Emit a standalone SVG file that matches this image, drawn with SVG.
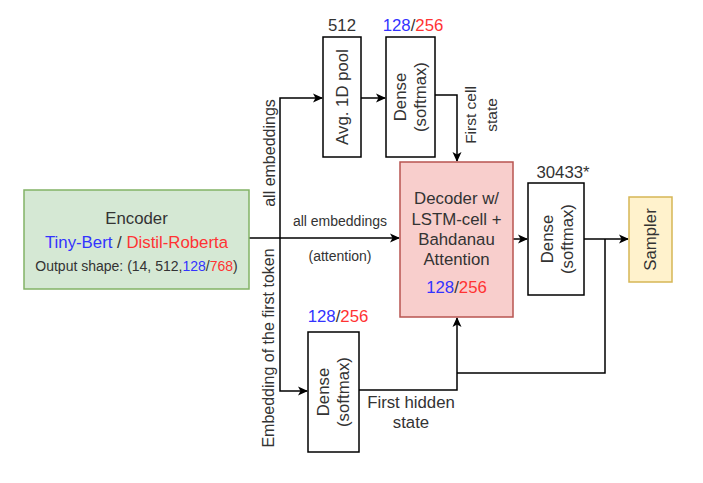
<svg xmlns="http://www.w3.org/2000/svg" width="703" height="483" viewBox="0 0 703 483">
<defs>
<marker id="arr" markerWidth="10" markerHeight="10" viewBox="0 0 10 10" refX="9" refY="5" orient="auto" markerUnits="userSpaceOnUse">
<path d="M0,0.5 L10,5 L0,9.5 L2.5,5 Z" fill="#000"/>
</marker>
<style>
text{font-family:"Liberation Sans",Arial,sans-serif;fill:#333}
.t{font-size:16.8px}
.v{font-size:16px}
.c{font-size:15.5px}
.s{font-size:14px}
.m{text-anchor:middle}
.b{fill:#3333ff}
.r{fill:#ff3333}
.box{fill:#fff;stroke:#000;stroke-width:1.5}
.ln{fill:none;stroke:#000;stroke-width:1.5}
</style>
</defs>
<rect width="703" height="483" fill="#fff"/>

<g id="connectors">
<path class="ln" d="M249,238 H399" marker-end="url(#arr)"/>
<path class="ln" d="M280,238 V98 H322" marker-end="url(#arr)"/>
<path class="ln" d="M280,238 V391 H307" marker-end="url(#arr)"/>
<path class="ln" d="M361,98 H385" marker-end="url(#arr)"/>
<path class="ln" d="M435,95 H457 V161" marker-end="url(#arr)"/>
<path class="ln" d="M359,390 H457 V318" marker-end="url(#arr)"/>
<path class="ln" d="M513,239 H527" marker-end="url(#arr)"/>
<path class="ln" d="M584,239 H628" marker-end="url(#arr)"/>
<path class="ln" d="M605,239 V373 H457"/>
</g>

<g id="edge-labels">
<text class="v m" transform="translate(275,153) rotate(-90)">all embeddings</text>
<text class="s m" x="340" y="226">all embeddings</text>
<text class="s m" x="340" y="261">(attention)</text>
<text class="v m" transform="translate(274,348) rotate(-90)">Embedding of the first token</text>
<text class="c m" transform="translate(476,115) rotate(-90)">First cell</text>
<text class="c m" transform="translate(497,115) rotate(-90)">state</text>
<text class="t m" x="411" y="408">First hidden</text>
<text class="t m" x="411" y="428">state</text>
</g>

<g id="encoder">
<rect x="24" y="190" width="225" height="99" fill="#d5e8d4" stroke="#82b366" stroke-width="1.5"/>
<text class="t m" x="136.5" y="224">Encoder</text>
<text class="t m" x="136.5" y="248"><tspan class="b">Tiny-Bert</tspan> / <tspan class="r">Distil-Roberta</tspan></text>
<text class="s m" x="136.5" y="271">Output shape: (14, 512,<tspan class="b">128</tspan>/<tspan class="r">768</tspan>)</text>
</g>

<g id="avgpool">
<rect class="box" x="323" y="37" width="38" height="120"/>
<text class="t m" x="342" y="31">512</text>
<text class="t m" transform="translate(348,97) rotate(-90)">Avg. 1D pool</text>
</g>

<g id="dense-cell">
<rect class="box" x="386" y="37" width="49" height="120"/>
<text class="t m" x="413" y="31"><tspan class="b">128</tspan>/<tspan class="r">256</tspan></text>
<text class="t m" transform="translate(406,97) rotate(-90)">Dense</text>
<text class="t m" transform="translate(426,97) rotate(-90)">(softmax)</text>
</g>

<g id="decoder">
<rect x="400" y="162" width="113" height="155" fill="#f8cecc" stroke="#b85450" stroke-width="1.5"/>
<text class="t m" x="456.5" y="204">Decoder w/</text>
<text class="t m" x="456.5" y="225">LSTM-cell +</text>
<text class="t m" x="456.5" y="245">Bahdanau</text>
<text class="t m" x="456.5" y="265">Attention</text>
<text class="t m" x="456.5" y="293"><tspan class="b">128</tspan>/<tspan class="r">256</tspan></text>
</g>

<g id="dense-out">
<rect class="box" x="528" y="183" width="56" height="112"/>
<text class="t m" x="563" y="178">30433*</text>
<text class="t m" transform="translate(553,239) rotate(-90)">Dense</text>
<text class="t m" transform="translate(573,239) rotate(-90)">(softmax)</text>
</g>

<g id="sampler">
<rect x="629" y="197" width="43" height="85" fill="#fff2cc" stroke="#d6b656" stroke-width="1.5"/>
<text class="t m" transform="translate(656,239.5) rotate(-90)">Sampler</text>
</g>

<g id="dense-hidden">
<rect class="box" x="308" y="332" width="51" height="120"/>
<text class="t m" x="338" y="322"><tspan class="b">128</tspan>/<tspan class="r">256</tspan></text>
<text class="t m" transform="translate(329,392) rotate(-90)">Dense</text>
<text class="t m" transform="translate(349,392) rotate(-90)">(softmax)</text>
</g>
</svg>
